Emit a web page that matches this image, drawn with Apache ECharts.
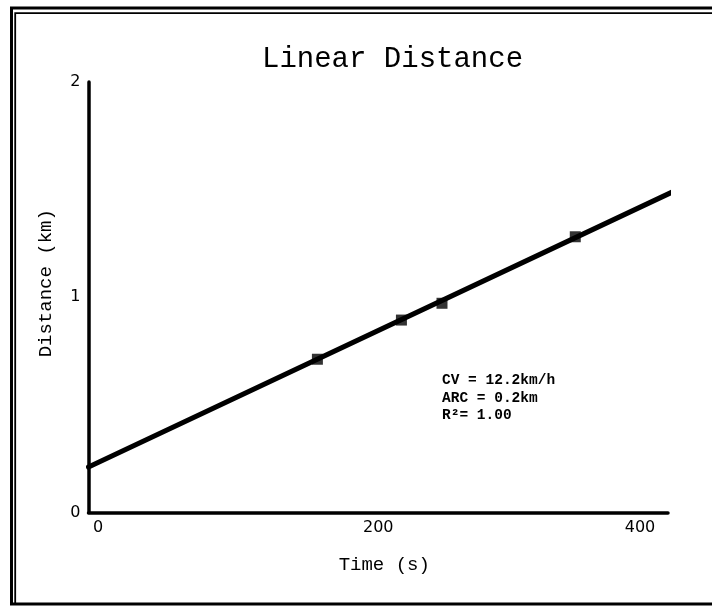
<!DOCTYPE html>
<html>
<head>
<meta charset="utf-8">
<script src="https://cdn.jsdelivr.net/npm/echarts@6/dist/echarts.min.js"></script>
<style>
  html, body { margin: 0; padding: 0; background: #fff; }
  #main { width: 712px; height: 607px; }
</style>
</head>
<body>
<div id="main"></div>
<script>
// fitted line (time s, distance km)
var fitTime = [0, 403];
var fitDist = [0.211, 1.489];
// measured points
var obsTime = [158, 216, 244, 336];
var obsDist = [0.712, 0.894, 0.972, 1.281];
// annotation lines
var statLines = ['CV = 12.2km/h', 'ARC = 0.2km', 'R\u00b2= 1.00'];

var chartDom = document.getElementById('main');
var chart = echarts.init(chartDom);

var mono = '"Courier New", "Liberation Mono", monospace';
var sans = '"DejaVu Sans", Verdana, sans-serif';

var fitData = fitTime.map(function (t, i) { return [t, fitDist[i]]; });
var obsData = obsTime.map(function (t, i) { return [t, obsDist[i]]; });

var option = {
  backgroundColor: '#fff',
  animation: false,
  title: {
    text: 'Linear Distance',
    left: 257,
    top: 40,
    textStyle: { fontFamily: mono, fontSize: 29, fontWeight: 'normal', color: '#000' }
  },
  grid: { left: 88.5, right: 44, top: 82, bottom: 94.5, containLabel: false },
  xAxis: {
    type: 'value',
    min: 0,
    max: 400,
    interval: 200,
    name: 'Time (s)',
    nameLocation: 'middle',
    nameGap: 43,
    nameTextStyle: { fontFamily: mono, fontSize: 19, color: '#000', padding: [0, 0, 0, 12] },
    axisLine: { lineStyle: { color: '#000', width: 3.5, cap: 'round' } },
    axisTick: { show: false },
    splitLine: { show: false },
    axisLabel: {
      margin: 7,
      fontFamily: sans,
      fontSize: 16,
      color: '#000',
      formatter: function (v) {
        if (v === 0) return '{l|0}';
        if (v === 400) return '{r|400}';
        return String(v);
      },
      rich: {
        l: { fontFamily: sans, fontSize: 16, color: '#000', padding: [0, 0, 0, 19] },
        r: { fontFamily: sans, fontSize: 16, color: '#000', padding: [0, 56, 0, 0] }
      }
    }
  },
  yAxis: {
    type: 'value',
    min: 0,
    max: 2,
    interval: 1,
    name: 'Distance (km)',
    nameLocation: 'middle',
    nameGap: 33,
    nameTextStyle: { fontFamily: mono, fontSize: 19, color: '#000', padding: [0, 0, 0, 28] },
    axisLine: { show: true, lineStyle: { color: '#000', width: 3.5, cap: 'round' } },
    axisTick: { show: false },
    splitLine: { show: false },
    axisLabel: { margin: 8, fontFamily: sans, fontSize: 16, color: '#000' }
  },
  graphic: [
    {
      type: 'rect',
      shape: { x: 11.5, y: 8, width: 720, height: 596 },
      style: { fill: null, stroke: '#000', lineWidth: 3 },
      silent: true
    },
    {
      type: 'polyline',
      shape: { points: [[15.2, 604], [15.2, 13.2], [712, 13.2]] },
      style: { fill: null, stroke: '#000', lineWidth: 1.8 },
      silent: true
    },
    {
      type: 'text',
      left: 442,
      top: 372,
      style: {
        text: statLines.join('\n'),
        font: 'bold 14.5px ' + mono,
        lineHeight: 17.5,
        fill: '#000'
      },
      silent: true
    }
  ],
  series: [
    {
      name: 'fit',
      type: 'line',
      data: fitData,
      showSymbol: false,
      symbol: 'none',
      clip: false,
      lineStyle: { color: '#000', width: 5, cap: 'round' }
    },
    {
      name: 'measured',
      type: 'scatter',
      data: obsData,
      symbol: 'rect',
      symbolSize: 11,
      itemStyle: { color: '#000' }
    }
  ]
};

chart.setOption(option);
</script>
</body>
</html>
